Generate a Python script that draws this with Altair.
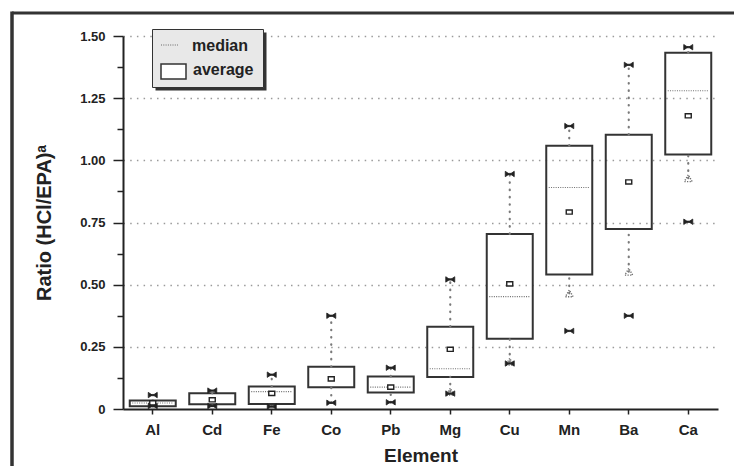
import altair as alt
import pandas as pd

elements = ["Al", "Cd", "Fe", "Co", "Pb", "Mg", "Cu", "Mn", "Ba", "Ca"]
box_low = [0.011, 0.019, 0.020, 0.087, 0.066, 0.129, 0.283, 0.541, 0.724, 1.023]
box_high = [0.034, 0.063, 0.090, 0.170, 0.131, 0.331, 0.704, 1.059, 1.103, 1.433]
medians = [0.024, None, 0.070, None, 0.088, 0.162, 0.452, 0.891, None, 1.280]
means = [0.025, 0.037, 0.063, 0.121, 0.088, 0.240, 0.503, 0.792, 0.913, 1.179]
maxima = [0.056, 0.074, 0.138, 0.375, 0.166, 0.521, 0.945, 1.138, 1.384, 1.455]
lower_pct = [None, None, None, None, None, 0.070, 0.190, 0.465, 0.552, 0.928]
minima = [0.012, 0.012, 0.010, 0.025, 0.027, 0.062, 0.183, 0.314, 0.375, 0.753]

y_ticks = [i * 0.125 for i in range(13)]

df = pd.DataFrame({
    "element": elements,
    "lo": box_low,
    "hi": box_high,
    "median": medians,
    "mean": means,
    "max": maxima,
    "pct": lower_pct,
    "min": minima,
})
df["wlo"] = [p if p is not None else m for p, m in zip(lower_pct, minima)]

FONT = "Liberation Sans, Arial, sans-serif"
INK = "#222222"

x_axis = alt.Axis(
    title="Element", labelAngle=0, labelFont=FONT, labelFontSize=15,
    labelFontWeight="bold", labelColor=INK, labelBaseline="alphabetic",
    labelPadding=20, tickSize=5, tickWidth=1.5, tickColor=INK,
    domainColor=INK, domainWidth=2, titleFont=FONT, titleFontSize=19,
    titleFontWeight="bold", titleColor=INK, titleBaseline="alphabetic",
    titleY=52, grid=False,
)
x_scale = alt.Scale(paddingInner=0.227, paddingOuter=0.1135)
x_enc = alt.X("element:N", sort=elements, scale=x_scale, axis=x_axis)

y_axis = alt.Axis(
    title="Ratio (HCl/EPA)\u1d43", values=y_ticks,
    labelExpr="datum.value % 0.25 == 0 ? (datum.value == 0 ? '0' : format(datum.value, '.2f')) : ''",
    labelOverlap=False, labelFont=FONT, labelFontSize=13, labelFontWeight="bold",
    labelColor=INK, labelPadding=8,
    tickSize={"condition": {"test": "datum.value % 0.25 == 0", "value": 10}, "value": 6},
    tickWidth=1.5, tickColor=INK, domainColor=INK, domainWidth=2,
    grid=True, gridColor="#9a9a9a", gridWidth=1.4, gridDash=[1.5, 5.2],
    gridOpacity={"condition": {"test": "datum.value > 0 && datum.value % 0.25 == 0", "value": 1}, "value": 0},
    titleFont=FONT, titleFontSize=20, titleFontWeight="bold", titleColor=INK,
    titleX=-73, titleY=186.5, titleBaseline="alphabetic", titleAngle=270,
)
y_scale = alt.Scale(domain=[0, 1.5], nice=False, zero=True)


def yenc(field):
    return alt.Y(field + ":Q", scale=y_scale, axis=y_axis)


base = alt.Chart(df)

dot_style = dict(stroke="#7a7a7a", strokeWidth=2.2, strokeDash=[0.5, 6.8], strokeCap="round")

upper_whisker = base.mark_rule(**dot_style).encode(x=x_enc, y=yenc("hi"), y2=alt.Y2("max"))
lower_whisker = base.mark_rule(**dot_style).encode(x=x_enc, y=yenc("wlo"), y2=alt.Y2("lo"))

boxes = base.mark_rect(fillOpacity=0, stroke="#333333", strokeWidth=2).encode(
    x=x_enc, y=yenc("lo"), y2=alt.Y2("hi")
)

median_marks = base.mark_point(
    shape="stroke", size=41 * 41, filled=False, stroke="#6f6f6f",
    strokeWidth=1.1, strokeDash=[1, 1.3], opacity=1
).encode(x=x_enc, y=yenc("median"))

mean_marks = base.mark_point(
    shape="M-1,-0.7H1V0.7H-1Z", size=36, filled=True, fill="white",
    stroke="#222222", strokeWidth=1.4, opacity=1
).encode(x=x_enc, y=yenc("mean"))

tri_marks = base.mark_point(
    shape="triangle-up", size=60, filled=False, stroke="#6a6a6a",
    strokeWidth=1.4, strokeDash=[1.2, 1.4], opacity=1
).encode(x=x_enc, y=yenc("pct"))

bowtie = "M-1,-0.6L-0.1,0L-1,0.6Z M1,-0.6L0.1,0L1,0.6Z M-0.3,-0.14H0.3V0.14H-0.3Z"
max_marks = base.mark_point(
    shape=bowtie, size=81, filled=True, fill="#222222", stroke="#222222",
    strokeWidth=0.8, opacity=1
).encode(x=x_enc, y=yenc("max"))
min_marks = base.mark_point(
    shape=bowtie, size=81, filled=True, fill="#222222", stroke="#222222",
    strokeWidth=0.8, opacity=1
).encode(x=x_enc, y=yenc("min"))

one = alt.Chart(pd.DataFrame({"k": [0]}))

frame_top = one.mark_rule(color="#333333", strokeWidth=3).encode(
    x=alt.value(-111), x2=alt.value(640), y=alt.value(-23)
)
frame_left = one.mark_rule(color="#333333", strokeWidth=3.5).encode(
    x=alt.value(-111), y=alt.value(-24.5), y2=alt.value(460)
)

legend_shadow = one.mark_rect(fill="#333333").encode(
    x=alt.value(32.5), x2=alt.value(143.5), y=alt.value(-3.5), y2=alt.value(54.5)
)
legend_bg = one.mark_rect(fill="#e8e8e8", stroke="#333333", strokeWidth=1).encode(
    x=alt.value(29.5), x2=alt.value(140.5), y=alt.value(-6.5), y2=alt.value(51.5)
)
legend_line = one.mark_rule(stroke="#666666", strokeWidth=1, strokeDash=[1, 1.3]).encode(
    x=alt.value(38), x2=alt.value(55), y=alt.value(9)
)
legend_box = one.mark_rect(fill="white", stroke="#333333", strokeWidth=1.5).encode(
    x=alt.value(38), x2=alt.value(63), y=alt.value(28), y2=alt.value(43)
)
legend_t1 = one.mark_text(
    text="median", align="left", baseline="alphabetic", font=FONT,
    fontSize=16, fontWeight="bold", color=INK
).encode(x=alt.value(69), y=alt.value(14.5))
legend_t2 = one.mark_text(
    text="average", align="left", baseline="alphabetic", font=FONT,
    fontSize=16, fontWeight="bold", color=INK
).encode(x=alt.value(70), y=alt.value(38.5))

chart = alt.layer(
    boxes, upper_whisker, lower_whisker, median_marks, mean_marks, tri_marks,
    max_marks, min_marks, frame_top, frame_left,
    legend_shadow, legend_bg, legend_line, legend_box, legend_t1, legend_t2,
).properties(
    width=595, height=373,
    padding={"left": 115, "top": 28, "right": 16, "bottom": 57},
    autosize=alt.AutoSizeParams(type="none"),
    background="white",
).configure_view(stroke=None)

chart.save("out.html", embed_options={"renderer": "svg", "actions": False})
